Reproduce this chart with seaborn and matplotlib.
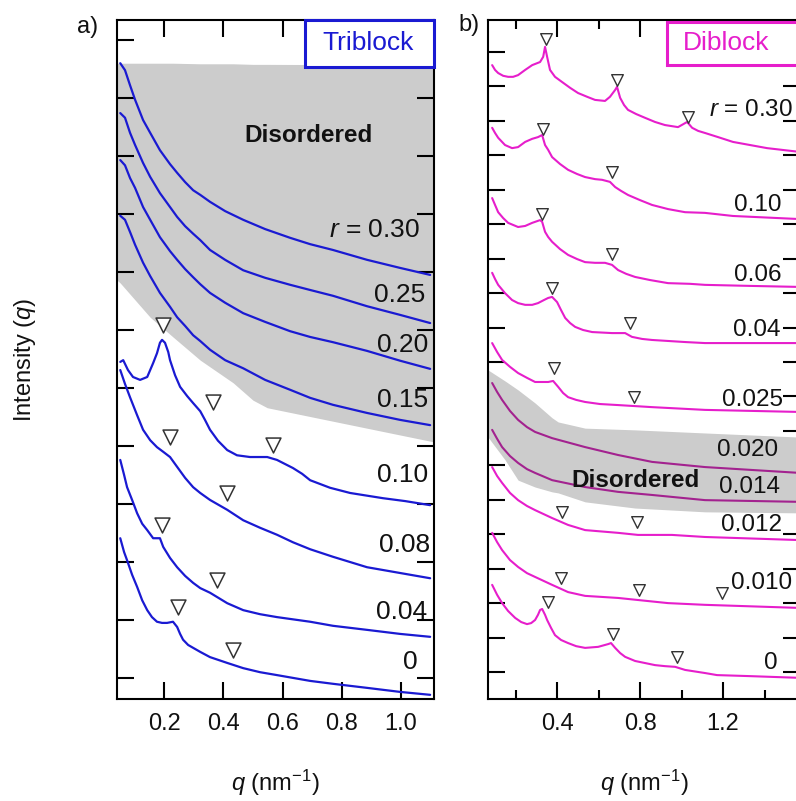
import matplotlib
matplotlib.use("Agg")
import matplotlib.pyplot as plt
import seaborn as sns
from matplotlib.patches import Rectangle

# ---------------- data: panel a (Triblock) ----------------
qa_top = [0.052, 0.068, 0.085, 0.102, 0.129, 0.153, 0.186, 0.220, 0.244, 0.271, 0.298,
          0.322, 0.355, 0.406, 0.467, 0.541, 0.625, 0.693, 0.770, 0.885, 0.997, 1.098]
Ia_030 = [10.60, 10.48, 10.22, 9.97, 9.62, 9.40, 9.10, 8.86, 8.71, 8.55, 8.41,
          8.33, 8.21, 8.05, 7.90, 7.74, 7.59, 7.48, 7.38, 7.21, 7.07, 6.95]
Ia_025 = [9.74, 9.66, 9.40, 9.19, 8.88, 8.64, 8.36, 8.12, 7.95, 7.79, 7.66,
          7.55, 7.38, 7.21, 7.03, 6.90, 6.78, 6.69, 6.59, 6.41, 6.26, 6.12]
Ia_020 = [8.93, 8.84, 8.62, 8.45, 8.12, 7.90, 7.60, 7.36, 7.21, 7.05, 6.91,
          6.79, 6.64, 6.47, 6.29, 6.14, 5.98, 5.88, 5.79, 5.64, 5.47, 5.33]
Ia_015 = [7.97, 7.90, 7.69, 7.47, 7.16, 6.93, 6.64, 6.40, 6.22, 6.07, 5.91,
          5.81, 5.66, 5.48, 5.34, 5.14, 4.97, 4.83, 4.71, 4.57, 4.45, 4.36]

qa_010 = [0.052, 0.062, 0.078, 0.095, 0.119, 0.143, 0.153, 0.163, 0.176, 0.186, 0.193, 0.203,
          0.214, 0.220, 0.237, 0.254, 0.278, 0.298, 0.322, 0.338, 0.355, 0.382, 0.413, 0.446,
          0.490, 0.548, 0.581, 0.608, 0.635, 0.666, 0.693, 0.760, 0.828, 0.939, 1.014, 1.098]
Ia_010 = [5.45, 5.48, 5.31, 5.19, 5.14, 5.19, 5.31, 5.43, 5.60, 5.78, 5.83, 5.78,
          5.62, 5.48, 5.22, 5.02, 4.86, 4.74, 4.60, 4.45, 4.28, 4.09, 3.93, 3.84,
          3.81, 3.81, 3.76, 3.69, 3.62, 3.52, 3.41, 3.28, 3.19, 3.10, 3.05, 2.98]

qa_008 = [0.052, 0.068, 0.085, 0.109, 0.129, 0.153, 0.176, 0.197, 0.220, 0.244, 0.271, 0.298,
          0.322, 0.355, 0.413, 0.467, 0.524, 0.581, 0.635, 0.693, 0.770, 0.885, 0.997, 1.098]
Ia_008 = [5.31, 5.07, 4.84, 4.53, 4.28, 4.10, 3.98, 3.90, 3.81, 3.64, 3.45, 3.29,
          3.19, 3.07, 2.90, 2.72, 2.59, 2.47, 2.34, 2.22, 2.09, 1.91, 1.81, 1.72]

qa_004 = [0.052, 0.065, 0.075, 0.092, 0.109, 0.126, 0.143, 0.163, 0.186, 0.197, 0.220, 0.244,
          0.271, 0.298, 0.322, 0.355, 0.413, 0.467, 0.524, 0.581, 0.693, 0.770, 0.885, 0.997, 1.098]
Ia_004 = [3.76, 3.50, 3.29, 3.07, 2.84, 2.66, 2.55, 2.41, 2.41, 2.26, 2.07, 1.91,
          1.76, 1.64, 1.55, 1.47, 1.29, 1.17, 1.10, 1.05, 0.97, 0.90, 0.83, 0.76, 0.71]

qa_000 = [0.052, 0.065, 0.075, 0.092, 0.109, 0.126, 0.143, 0.159, 0.176, 0.193, 0.210, 0.230,
          0.244, 0.254, 0.264, 0.281, 0.298, 0.322, 0.355, 0.413, 0.467, 0.524, 0.581, 0.693,
          0.770, 0.885, 0.997, 1.098]
Ia_000 = [2.41, 2.17, 2.03, 1.78, 1.57, 1.34, 1.17, 1.05, 0.97, 0.95, 0.95, 0.97,
          0.88, 0.76, 0.66, 0.57, 0.52, 0.45, 0.36, 0.26, 0.17, 0.10, 0.05, -0.05,
          -0.10, -0.17, -0.24, -0.29]

tri_a_q = [0.197, 0.365, 0.568, 0.220, 0.413, 0.193, 0.379, 0.247, 0.433]
tri_a_I = [6.09, 4.76, 4.02, 4.16, 3.19, 2.64, 1.69, 1.22, 0.48]

gray_a_q = [0.041, 0.052, 0.153, 0.230, 0.322, 0.433, 0.500, 0.548, 1.111]
gray_a_lo = [6.86, 6.81, 6.22, 5.88, 5.48, 5.09, 4.79, 4.66, 4.07]
gray_a_hi = [10.60, 10.60, 10.60, 10.60, 10.59, 10.59, 10.58, 10.58, 10.57]

labels_a = ["$r$ = 0.30", "0.25", "0.20", "0.15", "0.10", "0.08", "0.04", "0"]

# ---------------- data: panel b (Diblock) ----------------
qb_030 = [0.087, 0.101, 0.116, 0.140, 0.164, 0.188, 0.212, 0.246, 0.280, 0.318, 0.333, 0.342,
          0.352, 0.366, 0.390, 0.424, 0.463, 0.501, 0.545, 0.583, 0.631, 0.655, 0.680, 0.689,
          0.704, 0.723, 0.742, 0.781, 0.824, 0.872, 0.920, 0.983, 1.027, 1.051, 1.080, 1.113,
          1.176, 1.248, 1.330, 1.412, 1.57]
Ib_030 = [17.62, 17.48, 17.39, 17.31, 17.28, 17.28, 17.33, 17.48, 17.62, 17.71, 17.86, 18.15,
          17.86, 17.48, 17.28, 17.13, 16.96, 16.81, 16.70, 16.61, 16.58, 16.70, 16.90, 16.99,
          16.67, 16.46, 16.32, 16.20, 16.09, 15.97, 15.88, 15.82, 15.97, 15.80, 15.71, 15.65,
          15.53, 15.39, 15.30, 15.21, 15.10]

qb_010 = [0.087, 0.101, 0.116, 0.149, 0.183, 0.212, 0.246, 0.280, 0.308, 0.328, 0.342, 0.357,
          0.376, 0.414, 0.453, 0.496, 0.535, 0.583, 0.617, 0.655, 0.680, 0.708, 0.742, 0.800,
          0.858, 0.935, 1.017, 1.113, 1.248, 1.57]
Ib_010 = [15.80, 15.65, 15.51, 15.30, 15.21, 15.24, 15.39, 15.48, 15.53, 15.59, 15.30, 15.16,
          14.95, 14.75, 14.58, 14.46, 14.37, 14.31, 14.29, 14.23, 14.08, 13.97, 13.85, 13.70,
          13.56, 13.44, 13.35, 13.33, 13.24, 13.15]

qb_006 = [0.087, 0.101, 0.116, 0.140, 0.164, 0.212, 0.246, 0.280, 0.318, 0.328, 0.342, 0.357,
          0.376, 0.414, 0.453, 0.496, 0.535, 0.583, 0.631, 0.665, 0.694, 0.733, 0.776, 0.848,
          0.935, 1.041, 1.113, 1.330, 1.57]
Ib_006 = [13.76, 13.56, 13.35, 13.18, 13.04, 12.92, 12.95, 13.04, 13.12, 13.07, 12.78, 12.63,
          12.49, 12.28, 12.11, 11.99, 11.90, 11.88, 11.88, 11.82, 11.67, 11.56, 11.47, 11.38,
          11.29, 11.27, 11.24, 11.21, 11.18]

qb_004 = [0.087, 0.101, 0.116, 0.149, 0.183, 0.212, 0.246, 0.280, 0.308, 0.337, 0.357, 0.376,
          0.400, 0.419, 0.439, 0.463, 0.487, 0.525, 0.569, 0.665, 0.728, 0.761, 0.810, 0.858,
          1.017, 1.113, 1.57]
Ib_004 = [11.59, 11.41, 11.24, 11.00, 10.80, 10.71, 10.66, 10.66, 10.71, 10.80, 10.86, 10.89,
          10.74, 10.51, 10.28, 10.13, 10.02, 9.93, 9.87, 9.84, 9.84, 9.73, 9.67, 9.64,
          9.58, 9.55, 9.55]

qb_0025 = [0.087, 0.111, 0.135, 0.173, 0.212, 0.255, 0.294, 0.357, 0.381, 0.405, 0.429, 0.453,
           0.492, 0.535, 0.607, 0.694, 0.858, 1.113, 1.57]
Ib_0025 = [9.55, 9.29, 9.06, 8.86, 8.68, 8.54, 8.42, 8.42, 8.45, 8.28, 8.10, 7.98,
           7.90, 7.84, 7.78, 7.75, 7.69, 7.61, 7.55]

qb_dis = [0.087, 0.111, 0.135, 0.173, 0.212, 0.255, 0.294, 0.376, 0.535, 0.694, 0.858, 1.113, 1.57]
Ib_0020 = [8.39, 8.13, 7.90, 7.58, 7.32, 7.11, 6.97, 6.79, 6.53, 6.30, 6.10, 5.95, 5.78]
Ib_0014 = [7.03, 6.77, 6.53, 6.27, 6.07, 5.89, 5.78, 5.57, 5.37, 5.23, 5.14, 4.99, 4.94]

qb_0012 = [0.087, 0.111, 0.135, 0.173, 0.212, 0.255, 0.294, 0.376, 0.453, 0.535, 0.694, 0.790,
           0.954, 1.113, 1.57]
Ib_0012 = [5.95, 5.69, 5.49, 5.20, 4.99, 4.82, 4.70, 4.47, 4.27, 4.12, 4.04, 3.98,
           3.98, 3.92, 3.83]

qb_0010 = [0.087, 0.111, 0.135, 0.173, 0.212, 0.255, 0.294, 0.376, 0.453, 0.535, 0.694, 0.790,
           0.935, 1.113, 1.57]
Ib_0010 = [4.04, 3.77, 3.54, 3.25, 3.05, 2.87, 2.76, 2.53, 2.32, 2.21, 2.15, 2.09,
           2.00, 1.95, 1.86]

qb_000 = [0.087, 0.111, 0.135, 0.164, 0.198, 0.227, 0.255, 0.275, 0.294, 0.308, 0.318, 0.328,
          0.342, 0.352, 0.371, 0.390, 0.419, 0.453, 0.492, 0.535, 0.598, 0.646, 0.660, 0.680,
          0.704, 0.728, 0.776, 0.824, 0.872, 0.920, 0.969, 1.017, 1.113, 1.171, 1.330, 1.57]
Ib_000 = [2.53, 2.24, 2.00, 1.77, 1.57, 1.45, 1.39, 1.42, 1.51, 1.66, 1.80, 1.83,
          1.66, 1.51, 1.28, 1.07, 0.93, 0.84, 0.75, 0.70, 0.73, 0.81, 0.84, 0.70,
          0.55, 0.44, 0.32, 0.26, 0.20, 0.17, 0.15, 0.06, -0.03, -0.09, -0.12, -0.17]

tri_b_q = [0.347, 0.689, 1.031, 0.333, 0.665, 0.328, 0.665, 0.376, 0.752, 0.386, 0.771,
           0.424, 0.786, 0.419, 0.795, 1.195, 0.357, 0.670, 0.978]
tri_b_I = [18.38, 17.19, 16.11, 15.77, 14.52, 13.30, 12.14, 11.15, 10.13, 8.83, 7.98,
           4.65, 4.36, 2.73, 2.38, 2.29, 2.03, 1.10, 0.44]

gray_b_q = [0.067, 0.149, 0.212, 0.294, 0.376, 0.405, 0.535, 0.776, 1.113, 1.571]
gray_b_hi = [8.77, 8.45, 8.19, 7.81, 7.38, 7.26, 7.08, 7.03, 6.94, 6.82]
gray_b_lo = [6.82, 6.16, 5.57, 5.37, 5.23, 5.20, 4.94, 4.76, 4.65, 4.62]

labels_b = ["$r$ = 0.30", "0.10", "0.06", "0.04", "0.025", "0.020", "0.014", "0.012", "0.010", "0"]

xticks_a = [0.2, 0.4, 0.6, 0.8, 1.0]
xticklabels_a = ["0.2", "0.4", "0.6", "0.8", "1.0"]
xticks_b = [0.4, 0.8, 1.2]
xticklabels_b = ["0.4", "0.8", "1.2"]
xminor_b = [0.2, 0.6, 1.0, 1.4]

# ---------------- style ----------------
sns.set_theme(style="ticks")
plt.rcParams["font.family"] = ["Liberation Sans", "DejaVu Sans"]
plt.rcParams["mathtext.fontset"] = "custom"
plt.rcParams["mathtext.rm"] = "Liberation Sans"
plt.rcParams["mathtext.it"] = "Liberation Sans:italic"
plt.rcParams["mathtext.bf"] = "Liberation Sans:bold"

BLUE = "#1A1AD2"
MAG = "#E61ECB"
DARK = "#A3228F"
GRAY = "#CCCCCC"
EDGE = "#333333"
TXT = "#111111"

W, H = 796, 801
fig = plt.figure(figsize=(W / 100, H / 100), dpi=100)
ax_a = fig.add_axes([117 / W, 1 - 699 / H, 317 / W, 679 / H])
ax_b = fig.add_axes([488 / W, 1 - 699 / H, 312 / W, 679 / H])

line_kw = dict(sort=False, estimator=None, solid_joinstyle="round", solid_capstyle="round")

# ---------------- panel a ----------------
ax_a.fill_between(gray_a_q, gray_a_lo, gray_a_hi, color=GRAY, lw=0, zorder=0.5)
for q, I in [(qa_top, Ia_030), (qa_top, Ia_025), (qa_top, Ia_020), (qa_top, Ia_015),
             (qa_010, Ia_010), (qa_008, Ia_008), (qa_004, Ia_004), (qa_000, Ia_000)]:
    sns.lineplot(x=q, y=I, ax=ax_a, color=BLUE, lw=1.6, zorder=2, **line_kw)
sns.scatterplot(x=tri_a_q, y=tri_a_I, ax=ax_a, marker="v", s=115, color="white",
                edgecolor=EDGE, linewidth=1.1, zorder=3)

pos_a = [(1.064, 7.72), (1.081, 6.60), (1.091, 5.74), (1.091, 4.79),
         (1.091, 3.50), (1.098, 2.29), (1.088, 1.14), (1.057, 0.28)]
for (x, y), s in zip(pos_a, labels_a):
    ax_a.text(x, y, s, ha="right", va="center", fontsize=19, color=TXT, zorder=4)
ax_a.text(0.686, 9.36, "Disordered", ha="center", va="center", fontsize=17.5,
          fontweight="bold", color=TXT, zorder=4)

ax_a.set_xlim(0.041, 1.111)
ax_a.set_ylim(-0.362, 11.345)
ax_a.set_xticks(xticks_a)
ax_a.set_xticklabels(xticklabels_a)
ax_a.set_yticks(list(range(0, 12)))
ax_a.tick_params(axis="both", which="major", direction="in", length=12, width=1.5,
                 top=True, right=True, labelleft=False, labelsize=17, pad=10,
                 color="black", labelcolor=TXT)
ax_a.set_xlabel(r"$q$ (nm$^{-1}$)", fontsize=17, labelpad=24, color=TXT)
ax_a.set_ylabel(r"Intensity ($q$)", fontsize=17, labelpad=57, color=TXT)

ax_a.add_patch(Rectangle((0.593, 0.931), 0.407, 0.069, transform=ax_a.transAxes,
                         fc="white", ec=BLUE, lw=2.2, clip_on=False, zorder=5))
ax_a.text(0.792, 0.966, "Triblock", transform=ax_a.transAxes, ha="center", va="center",
          color=BLUE, fontsize=19, zorder=6)

# ---------------- panel b ----------------
for q, I in [(qb_030, Ib_030), (qb_010, Ib_010), (qb_006, Ib_006), (qb_004, Ib_004),
             (qb_0025, Ib_0025), (qb_0012, Ib_0012), (qb_0010, Ib_0010), (qb_000, Ib_000)]:
    sns.lineplot(x=q, y=I, ax=ax_b, color=MAG, lw=1.5, zorder=2, **line_kw)
ax_b.fill_between(gray_b_q, gray_b_lo, gray_b_hi, color=GRAY, lw=0, zorder=1)
for I in [Ib_0020, Ib_0014]:
    sns.lineplot(x=qb_dis, y=I, ax=ax_b, color=DARK, lw=1.5, zorder=2, **line_kw)
sns.scatterplot(x=tri_b_q, y=tri_b_I, ax=ax_b, marker="v", s=70, color="white",
                edgecolor=EDGE, linewidth=1.0, zorder=3)

pos_b = [(1.537, 16.32), (1.484, 13.56), (1.484, 11.53), (1.475, 9.93), (1.489, 7.90),
         (1.465, 6.45), (1.475, 5.37), (1.484, 4.27), (1.533, 2.58), (1.465, 0.26)]
for (x, y), s in zip(pos_b, labels_b):
    ax_b.text(x, y, s, ha="right", va="center", fontsize=17.5, color=TXT, zorder=4)
ax_b.text(0.776, 5.57, "Disordered", ha="center", va="center", fontsize=17.5,
          fontweight="bold", color=TXT, zorder=4)

ax_b.set_xlim(0.067, 1.571)
ax_b.set_ylim(-0.784, 18.93)
ax_b.set_xticks(xticks_b)
ax_b.set_xticklabels(xticklabels_b)
ax_b.set_xticks(xminor_b, minor=True)
ax_b.set_yticks(list(range(0, 19)))
ax_b.tick_params(axis="both", which="major", direction="in", length=12, width=1.5,
                 top=True, right=True, labelleft=False, labelsize=17, pad=10,
                 color="black", labelcolor=TXT)
ax_b.tick_params(axis="x", which="minor", direction="in", length=6.5, width=1.5,
                 top=True, bottom=True, color="black")
ax_b.set_xlabel(r"$q$ (nm$^{-1}$)", fontsize=17, labelpad=24, color=TXT)
ax_b.set_ylabel("")

ax_b.add_patch(Rectangle((0.574, 0.934), 0.5, 0.063, transform=ax_b.transAxes,
                         fc="white", ec=MAG, lw=2.2, clip_on=False, zorder=5))
ax_b.text(0.763, 0.966, "Diblock", transform=ax_b.transAxes, ha="center", va="center",
          color=MAG, fontsize=19, zorder=6)

for ax in (ax_a, ax_b):
    for sp in ax.spines.values():
        sp.set_linewidth(1.5)
        sp.set_color("black")
        sp.set_visible(True)

fig.text(77 / W, 1 - 27 / H, "a)", fontsize=17, ha="left", va="center", color=TXT)
fig.text(458 / W, 1 - 25 / H, "b)", fontsize=17, ha="left", va="center", color=TXT)

fig.savefig("out.png", dpi=100)
